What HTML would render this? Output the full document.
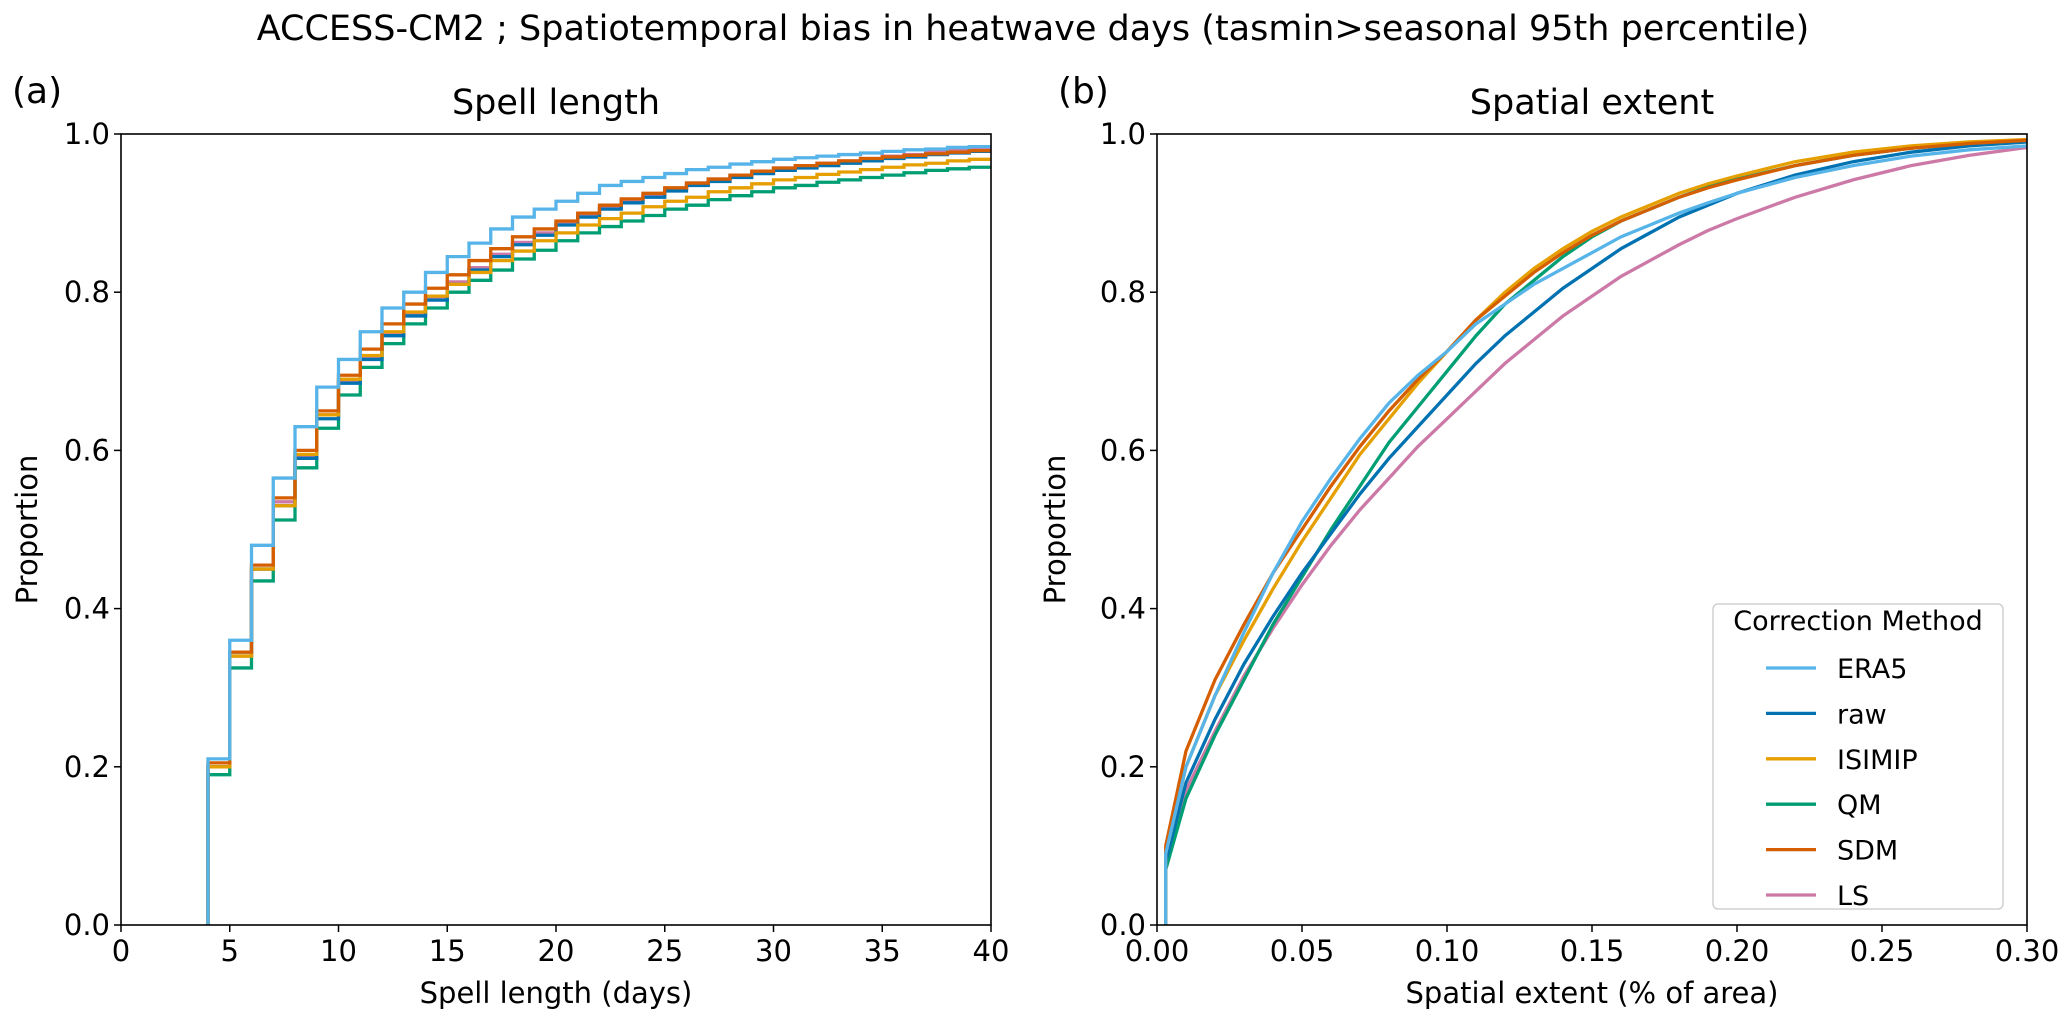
<!DOCTYPE html>
<html><head><meta charset="utf-8"><style>
html,body{margin:0;padding:0;background:#fff;}
svg text{font-family:"DejaVu Sans","Liberation Sans",sans-serif;fill:#000;}
</style></head><body>
<svg id="fig" width="2067" height="1031" xmlns="http://www.w3.org/2000/svg">
<text x="1033" y="40" font-size="35" text-anchor="middle">ACCESS-CM2 ; Spatiotemporal bias in heatwave days (tasmin&gt;seasonal 95th percentile)</text>
<text x="12" y="103" font-size="36">(a)</text>
<text x="1058" y="103" font-size="36">(b)</text>
<text x="556" y="114" font-size="35" text-anchor="middle">Spell length</text>
<text x="1592" y="114" font-size="35" text-anchor="middle">Spatial extent</text>
<g id="left"></g>
<g id="right"></g>
</svg>
<script>
const seriesNames = ["ERA5","raw","ISIMIP","QM","SDM","LS"];
const seriesColors = {ERA5:"#56B4E9",raw:"#0072B2",ISIMIP:"#E69F00",QM:"#009E73",SDM:"#D55E00",LS:"#CC79A7"};
const drawOrder = ["LS","QM","raw","ISIMIP","SDM","ERA5"];

// Left: spell length (days 4..40)
const spellDays = [4,5,6,7,8,9,10,11,12,13,14,15,16,17,18,19,20,21,22,23,24,25,26,27,28,29,30,31,32,33,34,35,36,37,38,39,40];
const spellERA5 = [0.21,0.36,0.48,0.565,0.63,0.68,0.715,0.75,0.78,0.80,0.825,0.845,0.862,0.88,0.895,0.905,0.915,0.925,0.935,0.94,0.945,0.95,0.955,0.958,0.962,0.965,0.968,0.97,0.972,0.974,0.976,0.978,0.98,0.981,0.983,0.984,0.985];
const spellRaw = [0.20,0.345,0.45,0.53,0.59,0.64,0.685,0.715,0.745,0.77,0.79,0.81,0.828,0.845,0.86,0.872,0.885,0.895,0.905,0.913,0.92,0.928,0.935,0.94,0.945,0.95,0.954,0.957,0.96,0.963,0.966,0.969,0.971,0.974,0.976,0.978,0.98];
const spellISIMIP = [0.20,0.34,0.45,0.53,0.595,0.645,0.69,0.72,0.75,0.775,0.795,0.81,0.825,0.84,0.852,0.865,0.875,0.885,0.893,0.9,0.908,0.915,0.92,0.927,0.932,0.937,0.942,0.945,0.949,0.952,0.955,0.958,0.961,0.963,0.966,0.968,0.97];
const spellQM = [0.19,0.325,0.435,0.512,0.578,0.628,0.67,0.705,0.735,0.76,0.78,0.80,0.815,0.828,0.842,0.853,0.865,0.875,0.883,0.89,0.897,0.905,0.91,0.917,0.922,0.927,0.932,0.935,0.939,0.942,0.945,0.948,0.951,0.954,0.956,0.958,0.96];
const spellSDM = [0.205,0.345,0.455,0.54,0.60,0.65,0.695,0.728,0.76,0.785,0.805,0.822,0.84,0.855,0.87,0.88,0.89,0.90,0.91,0.918,0.925,0.932,0.938,0.943,0.948,0.953,0.957,0.96,0.963,0.966,0.969,0.971,0.973,0.975,0.977,0.979,0.98];
const spellLS = [0.20,0.34,0.45,0.535,0.592,0.645,0.688,0.718,0.748,0.773,0.793,0.813,0.831,0.848,0.863,0.875,0.888,0.898,0.908,0.916,0.923,0.931,0.938,0.943,0.948,0.953,0.957,0.96,0.963,0.966,0.969,0.972,0.974,0.977,0.979,0.981,0.983];
const spellTicksX = [0,5,10,15,20,25,30,35,40];
const spellTickLabelsX = ["0","5","10","15","20","25","30","35","40"];

// Right: spatial extent
const extentX = [0.003,0.01,0.02,0.03,0.04,0.05,0.06,0.07,0.08,0.09,0.10,0.11,0.12,0.13,0.14,0.15,0.16,0.17,0.18,0.19,0.20,0.22,0.24,0.26,0.28,0.30];
const extERA5 = [0.09,0.2,0.29,0.37,0.445,0.51,0.565,0.615,0.66,0.695,0.725,0.76,0.785,0.81,0.83,0.85,0.87,0.885,0.9,0.913,0.925,0.945,0.96,0.972,0.98,0.985];
const extRaw = [0.08,0.18,0.26,0.33,0.39,0.445,0.495,0.545,0.59,0.63,0.67,0.71,0.745,0.775,0.805,0.83,0.855,0.875,0.895,0.91,0.925,0.948,0.965,0.977,0.985,0.99];
const extISIMIP = [0.09,0.2,0.29,0.36,0.425,0.485,0.54,0.595,0.64,0.685,0.725,0.765,0.8,0.83,0.855,0.877,0.895,0.91,0.925,0.937,0.947,0.965,0.977,0.985,0.99,0.993];
const extQM = [0.07,0.16,0.24,0.31,0.38,0.44,0.5,0.555,0.61,0.655,0.7,0.745,0.785,0.815,0.845,0.87,0.89,0.905,0.92,0.933,0.943,0.96,0.973,0.982,0.988,0.992];
const extSDM = [0.1,0.22,0.31,0.38,0.445,0.5,0.555,0.605,0.65,0.69,0.725,0.765,0.795,0.825,0.85,0.872,0.89,0.905,0.92,0.932,0.942,0.96,0.973,0.982,0.988,0.992];
const extLS = [0.08,0.17,0.245,0.315,0.375,0.43,0.48,0.525,0.565,0.605,0.64,0.675,0.71,0.74,0.77,0.795,0.82,0.84,0.86,0.878,0.893,0.92,0.942,0.96,0.973,0.983];
const extTicksX = [0,0.05,0.1,0.15,0.2,0.25,0.3];
const extTickLabelsX = ["0.00","0.05","0.10","0.15","0.20","0.25","0.30"];
const ticksY = [0,0.2,0.4,0.6,0.8,1.0];
const tickLabelsY = ["0.0","0.2","0.4","0.6","0.8","1.0"];

const NS="http://www.w3.org/2000/svg";
function mk(parent,tag,attrs){const e=document.createElementNS(NS,tag);for(const k in attrs)e.setAttribute(k,attrs[k]);parent.appendChild(e);return e;}

function drawPanel(g,box,xmax,xticks,xlabels,xlabel,seriesMap,xs,stepMode,prefix,ylOff){
  const sx=v=>box.x+v/xmax*box.w, sy=v=>box.y+box.h-v*box.h;
  const clip=mk(g,"clipPath",{id:prefix+"clip"});
  mk(clip,"rect",{x:box.x,y:box.y-3,width:box.w,height:box.h+3});
  const lines=mk(g,"g",{"clip-path":"url(#"+prefix+"clip)"});
  
  
  drawOrder.forEach(name=>{
    const vals=seriesMap[name];
    let d="M"+sx(xs[0])+","+sy(0)+" L"+sx(xs[0])+","+sy(vals[0]);
    for(let i=1;i<xs.length;i++){
      if(stepMode) d+=" L"+sx(xs[i])+","+sy(vals[i-1])+" L"+sx(xs[i])+","+sy(vals[i]);
      else d+=" L"+sx(xs[i])+","+sy(vals[i]);
    }
    if(stepMode) d+=" L"+sx(xmax)+","+sy(vals[vals.length-1]);
    const p=mk(lines,"path",{d:d,fill:"none",stroke:seriesColors[name],"stroke-width":3.3,"stroke-linejoin":"miter"});
    
    
  });
  const frame=mk(g,"rect",{x:box.x,y:box.y,width:box.w,height:box.h,fill:"none",stroke:"#000","stroke-width":1.6});
  
  
  xticks.forEach((t,i)=>{
    mk(g,"line",{x1:sx(t),x2:sx(t),y1:box.y+box.h,y2:box.y+box.h+7,stroke:"#000","stroke-width":1.5});
    const tx=mk(g,"text",{x:sx(t),y:box.y+box.h+36,"font-size":29,"text-anchor":"middle"});
    tx.textContent=xlabels[i];
    
    
  });
  ticksY.forEach((t,i)=>{
    mk(g,"line",{x1:box.x-7,x2:box.x,y1:sy(t),y2:sy(t),stroke:"#000","stroke-width":1.5});
    const tx=mk(g,"text",{x:box.x-11,y:sy(t)+10,"font-size":29,"text-anchor":"end"});
    tx.textContent=tickLabelsY[i];
    
    
  });
  const xl=mk(g,"text",{x:box.x+box.w/2,y:box.y+box.h+78,"font-size":29,"text-anchor":"middle"});
  xl.textContent=xlabel;
  
  
  const yl=mk(g,"text",{x:0,y:0,"font-size":29,"text-anchor":"middle",transform:"translate("+(box.x-ylOff)+","+(box.y+box.h/2)+") rotate(-90)"});
  yl.textContent="Proportion";
  
  
}

drawPanel(document.getElementById("left"),{x:121,y:134,w:870,h:791},40,spellTicksX,spellTickLabelsX,"Spell length (days)",
  {ERA5:spellERA5,raw:spellRaw,ISIMIP:spellISIMIP,QM:spellQM,SDM:spellSDM,LS:spellLS},spellDays,true,"left-",84);
drawPanel(document.getElementById("right"),{x:1157,y:134,w:870,h:791},0.3,extTicksX,extTickLabelsX,"Spatial extent (% of area)",
  {ERA5:extERA5,raw:extRaw,ISIMIP:extISIMIP,QM:extQM,SDM:extSDM,LS:extLS},extentX,false,"right-",92);

// legend
const rg=document.getElementById("right");
const leg=mk(rg,"g",{});


mk(leg,"rect",{x:1713,y:604,width:290,height:305,rx:5,fill:"#fff","fill-opacity":0.85,stroke:"#d0d0d0","stroke-width":1.5});
const lt=mk(leg,"text",{x:1858,y:630,"font-size":27,"text-anchor":"middle"});
lt.textContent="Correction Method";


seriesNames.forEach((n,i)=>{
  const y=668+i*45.4;
  const e=mk(leg,"g",{});
  
  
  mk(e,"line",{x1:1766,x2:1816,y1:y,y2:y,stroke:seriesColors[n],"stroke-width":3.3});
  const t=mk(e,"text",{x:1837,y:y+10,"font-size":27});
  t.textContent=n;
});
</script>
</body></html>
